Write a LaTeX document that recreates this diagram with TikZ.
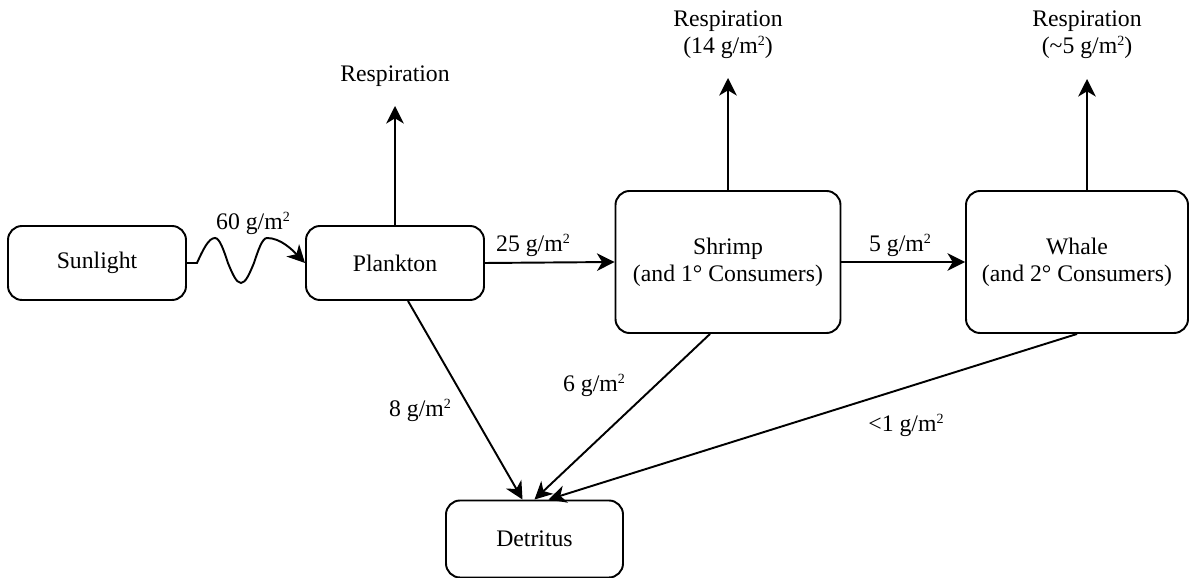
\documentclass[tikz,border=0pt]{standalone}
\usepackage{fontspec}
\setmainfont{Liberation Serif}
\newfontfamily\timesfont{Liberation Serif}
\usetikzlibrary{positioning}
\usetikzlibrary{arrows.meta}
\newcommand{\gm}{g/m\raisebox{0.75ex}{\fontsize{8}{8}\selectfont 2}}

\begin{document}
\begin{tikzpicture}[
    font=\timesfont\fontsize{13.5}{15.5}\selectfont,
    pool/.style={draw, line width=1.1pt, rounded corners=8pt, align=center},
    smallpool/.style={pool, minimum width=3.56cm, minimum height=1.48cm},
    bigpool/.style={pool, minimum width=4.5cm, minimum height=2.84cm},
    flow/.style={-{Stealth[length=10pt, width=10pt, inset=3pt]}, line width=1.1pt},
    lbl/.style={align=center, inner sep=1pt}
]
    \useasboundingbox (0, 0) rectangle (23.78, -11.56);

    \node[smallpool] (sunlight) at (1.94, -5.26) {Sunlight};
    \node[smallpool] (plankton) at (7.9, -5.26) {Plankton};
    \node[bigpool] (shrimp) at (14.56, -5.24) {Shrimp\\(and 1° Consumers)};
    \node[bigpool, minimum width=4.44cm] (whale) at (21.54, -5.24) {Whale\\(and 2° Consumers)};
    \node[smallpool, minimum width=3.54cm, minimum height=1.54cm] (detritus) at (10.69, -10.78) {Detritus};

    % respiration
    \coordinate (plankresp) at (7.9, -2.12);
    \coordinate (shrimpresp) at (14.56, -1.56);
    \coordinate (whaleresp) at (21.74, -1.58);
    \node[lbl] (plankrespl) at (7.9, -1.52) {Respiration};
    \node[lbl] (shrimprespl) at (14.56, -0.7) {Respiration\\(14 \gm)};
    \node[lbl] (whalerespl) at (21.74, -0.7) {Respiration\\(\textasciitilde5 \gm)};
    \draw[flow] (plankton.north) -- (plankresp);
    \draw[flow] (shrimp.north) -- (shrimpresp);
    \draw[flow] (whale.north -| whaleresp) -- (whaleresp);

    % sunlight into plankton
    \draw[flow] (sunlight.east) -- ++(0.2, 0) sin ++(0.36, 0.5) cos ++(0.26, -0.5)
        sin ++(0.26, -0.4) cos ++(0.26, 0.4) sin ++(0.26, 0.5) cos (plankton.west);
    \node[lbl] (sunflow) at (5.06, -4.46) {60 \gm};

    % along the chain
    \draw[flow] (plankton.east) -- (shrimp.west);
    \node[lbl] (plankflow) at (10.66, -4.9) {25 \gm};
    \draw[flow] (shrimp.east) -- (whale.west);
    \node[lbl] (shrimpflow) at (18.0, -4.9) {5 \gm};

    % to detritus
    \draw[flow] ([xshift=0.26cm]plankton.south) -- ([xshift=-0.24cm]detritus.north);
    \draw[flow] ([xshift=-0.36cm]shrimp.south) -- (detritus.north);
    \draw[flow] (whale.south) -- ([xshift=0.28cm]detritus.north);
    \node[lbl] (planktodet) at (8.4, -8.2) {8 \gm};
    \node[lbl] (shrimptodet) at (11.88, -7.7) {6 \gm};
    \node[lbl] (whaletodet) at (18.12, -8.5) {<1 \gm};
\end{tikzpicture}
\end{document}
